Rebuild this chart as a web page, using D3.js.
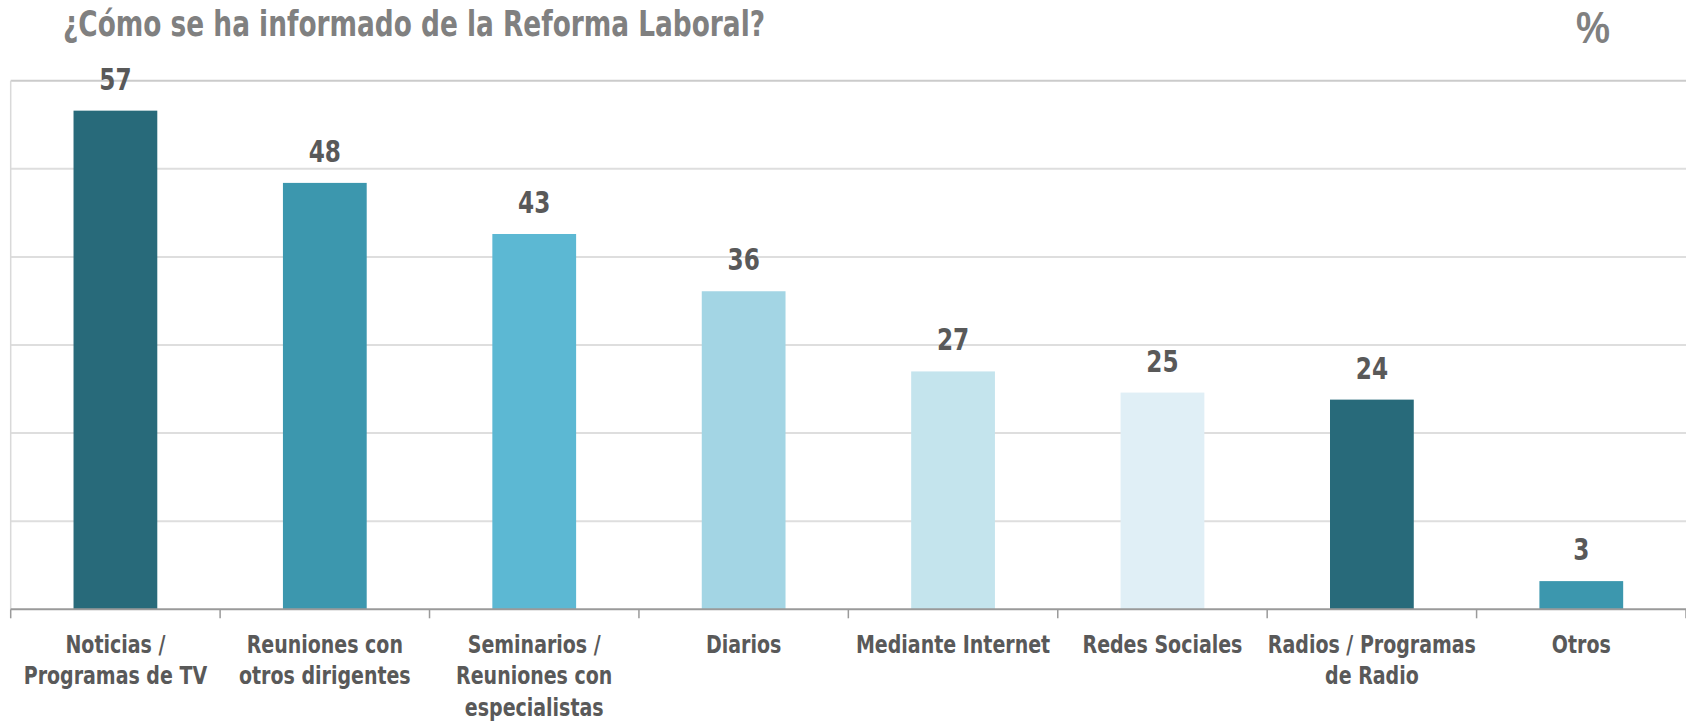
<!DOCTYPE html>
<html>
<head>
<meta charset="utf-8">
<script src="https://cdn.jsdelivr.net/npm/d3@7"></script>
<style>
  html, body { margin: 0; padding: 0; background: #fff; }
  svg { display: block; }
</style>
</head>
<body>
<svg id="chart" width="1686" height="721"></svg>
<script>
const title = "¿Cómo se ha informado de la Reforma Laboral?";
const unitLabel = "%";
const categories = [
  ["Noticias /", "Programas de TV"],
  ["Reuniones con", "otros dirigentes"],
  ["Seminarios /", "Reuniones con", "especialistas"],
  ["Diarios"],
  ["Mediante Internet"],
  ["Redes Sociales"],
  ["Radios / Programas", "de Radio"],
  ["Otros"]
];
const values = [56.6, 48.4, 42.6, 36.1, 27.0, 24.6, 23.8, 3.2];
const valueLabels = ["57", "48", "43", "36", "27", "25", "24", "3"];
const colors = ["#286a7a", "#3c97ae", "#5cb8d3", "#a3d5e4", "#c4e4ed", "#e0eff6", "#286a7a", "#3c97ae"];
const yTicks = [0, 10, 20, 30, 40, 50, 60];

(function () {
const svg = d3.select("#chart");
const mLeft = 10.7, mRight = 1686, mTop = 80.7, mBottom = 609.3;

const x = d3.scaleBand().domain(d3.range(categories.length)).range([mLeft, mRight]).paddingInner(0).paddingOuter(0);
const y = d3.scaleLinear().domain([0, 60]).range([mBottom, mTop]);
const barW = x.bandwidth() * 0.40;

const fontC = "'Liberation Sans Narrow', 'DejaVu Sans Condensed', sans-serif";

// gridlines
svg.append("g").selectAll("line").data(yTicks.filter(d => d > 0)).join("line")
  .attr("x1", mLeft).attr("x2", mRight)
  .attr("y1", d => y(d)).attr("y2", d => y(d))
  .attr("stroke", d => d === 60 ? "#cbcbcb" : "#dedede")
  .attr("stroke-width", 2);

// left axis line
svg.append("line").attr("x1", mLeft).attr("x2", mLeft).attr("y1", y(60)).attr("y2", y(0))
  .attr("stroke", "#d9d9d9").attr("stroke-width", 1.5);

// bars
svg.append("g").selectAll("rect").data(values).join("rect")
  .attr("x", (d, i) => x(i) + (x.bandwidth() - barW) / 2)
  .attr("width", barW)
  .attr("y", d => y(d))
  .attr("height", d => y(0) - y(d))
  .attr("fill", (d, i) => colors[i]);

// value labels (horizontally condensed)
svg.append("g").selectAll("g").data(values).join("g")
  .attr("transform", (d, i) => `translate(${x(i) + x.bandwidth() / 2},${y(d) - 21}) scale(0.86,1)`)
  .append("text")
  .attr("text-anchor", "middle")
  .attr("font-family", fontC)
  .attr("font-weight", "bold")
  .attr("font-size", 30)
  .attr("fill", "#595959")
  .text((d, i) => valueLabels[i]);

// x axis baseline and ticks
const xAxis = svg.append("g");
xAxis.append("line").attr("x1", mLeft).attr("x2", mRight).attr("y1", mBottom).attr("y2", mBottom)
  .attr("stroke", "#9a9a9a").attr("stroke-width", 2);
const bounds = d3.range(categories.length + 1).map(i => i < categories.length ? x(i) : mRight);
xAxis.selectAll("line.tick").data(bounds).join("line").attr("class", "tick")
  .attr("x1", d => d).attr("x2", d => d).attr("y1", mBottom).attr("y2", mBottom + 9)
  .attr("stroke", "#9a9a9a").attr("stroke-width", 1.5);

// category labels (horizontally condensed)
const lab = svg.append("g").selectAll("g").data(categories).join("g")
  .attr("transform", (d, i) => `translate(${x(i) + x.bandwidth() / 2},0) scale(0.88,1)`)
  .append("text")
  .attr("text-anchor", "middle")
  .attr("font-family", fontC)
  .attr("font-weight", "bold")
  .attr("font-size", 24)
  .attr("fill", "#595959");
lab.each(function(lines) {
  d3.select(this).selectAll("tspan").data(lines).join("tspan")
    .attr("x", 0)
    .attr("y", (l, j) => 653 + j * 31.5)
    .text(l => l);
});

// title
svg.append("text").attr("x", 63).attr("y", 36)
  .attr("font-family", fontC).attr("font-weight", "bold").attr("font-size", 36)
  .attr("fill", "#808080")
  .attr("textLength", 702).attr("lengthAdjust", "spacingAndGlyphs")
  .text(title);

svg.append("g").attr("transform", "translate(1593,43) scale(0.85,1)")
  .append("text").attr("text-anchor", "middle")
  .attr("font-family", "'Liberation Sans', Arial, sans-serif").attr("font-weight", "bold").attr("font-size", 45)
  .attr("fill", "#808080")
  .text(unitLabel);
})();
</script>
</body>
</html>
